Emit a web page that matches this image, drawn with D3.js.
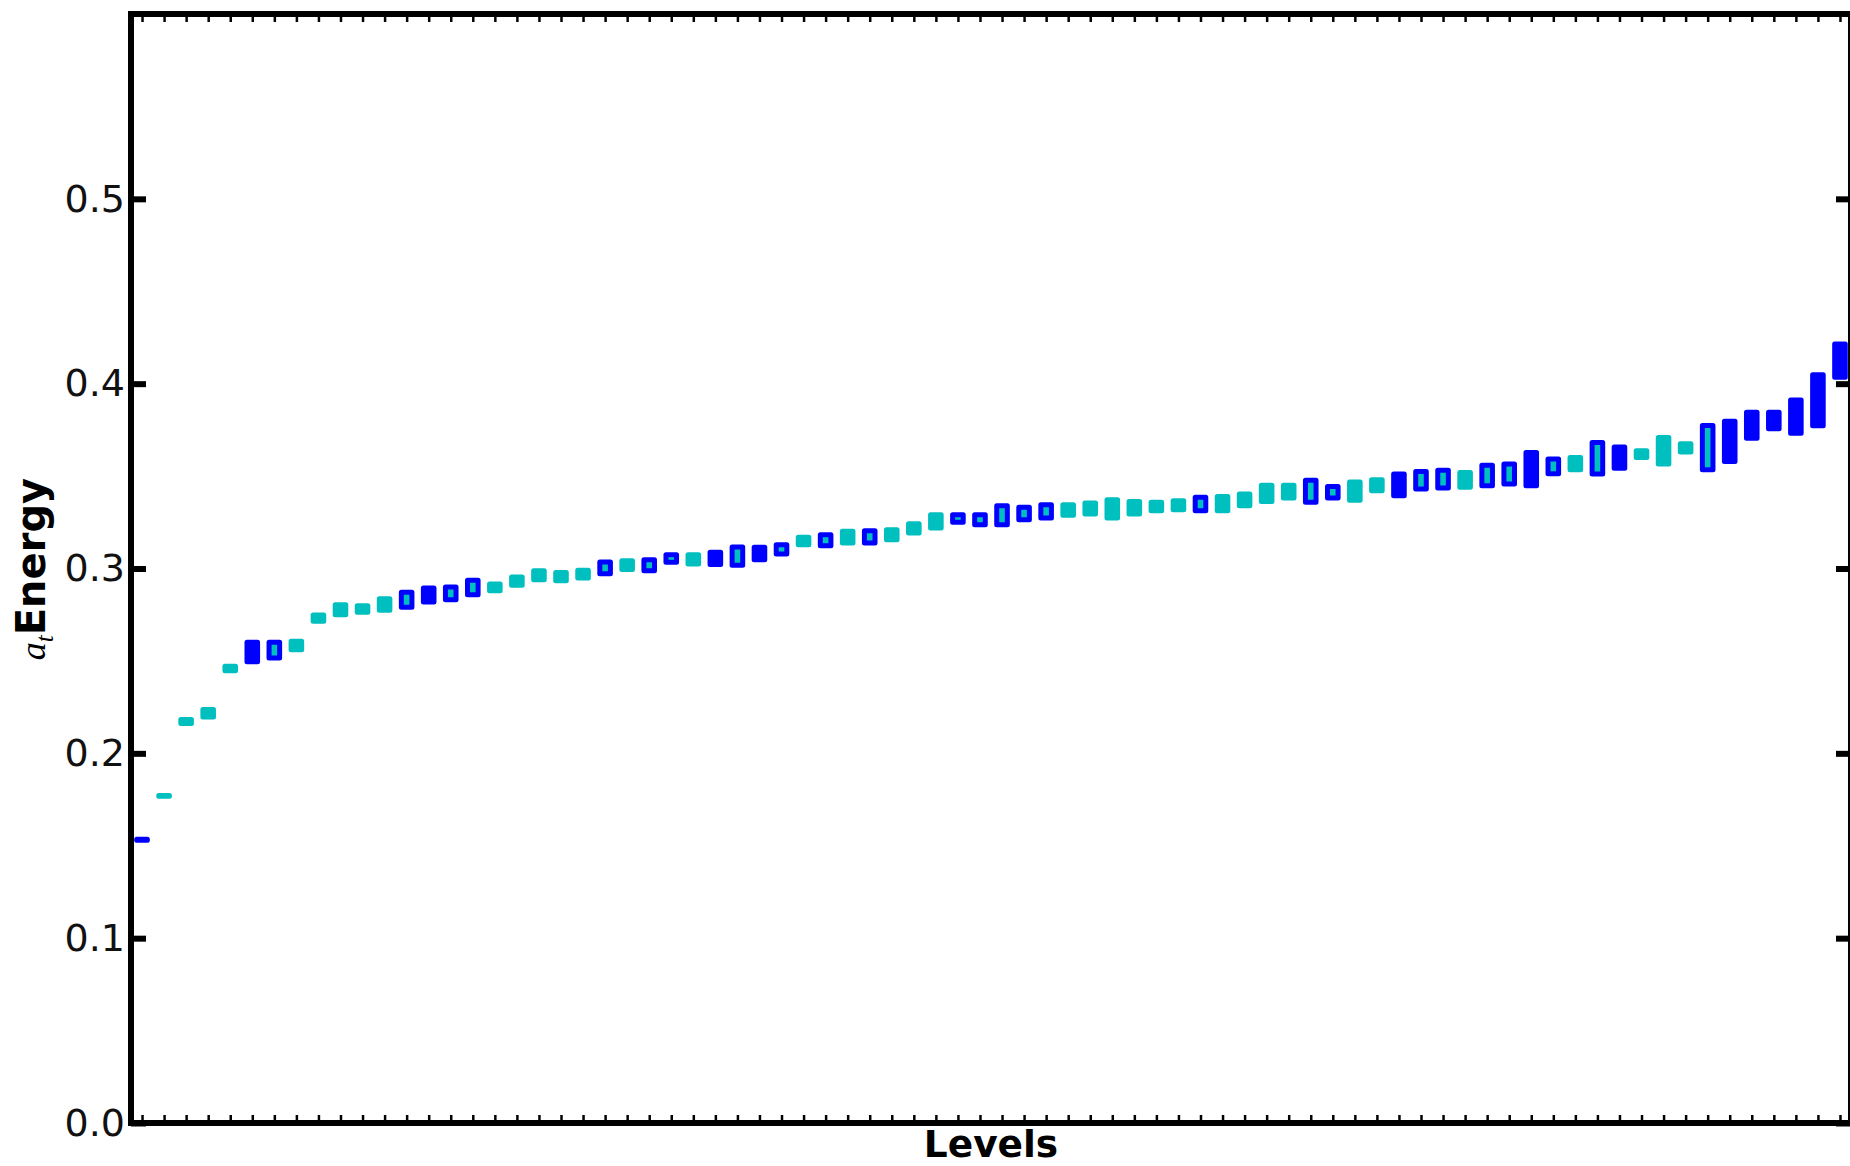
<!DOCTYPE html>
<html>
<head>
<meta charset="utf-8">
<script src="https://cdn.jsdelivr.net/npm/d3@7"></script>
<style>
  html, body { margin: 0; padding: 0; background: #fff; }
  svg { display: block; }
</style>
</head>
<body>
<svg id="chart" width="1850" height="1166"></svg>
<script>
// Level index (1..78), energy interval [low, high] and marker kind per level.
// kind: "b" = filled blue, "c" = filled cyan, "o" = cyan with blue outline
const levels = d3.range(1, 79);

const levelLow = [
  0.1530, 0.1768, 0.2161, 0.2197, 0.2447, 0.2495, 0.2516, 0.2561, 0.2715, 0.2750,
  0.2763, 0.2774, 0.2790, 0.2819, 0.2831, 0.2858, 0.2880, 0.2909, 0.2939, 0.2934,
  0.2949, 0.2972, 0.2994, 0.2988, 0.3034, 0.3024, 0.3021, 0.3017, 0.3048, 0.3078,
  0.3129, 0.3123, 0.3138, 0.3138, 0.3156, 0.3192, 0.3219, 0.3250, 0.3237, 0.3237,
  0.3264, 0.3273, 0.3288, 0.3295, 0.3273, 0.3295, 0.3312, 0.3318, 0.3312, 0.3312,
  0.3339, 0.3363, 0.3381, 0.3359, 0.3381, 0.3369, 0.3421, 0.3394, 0.3430, 0.3435,
  0.3439, 0.3448, 0.3457, 0.3448, 0.3512, 0.3534, 0.3511, 0.3543, 0.3601, 0.3566,
  0.3630, 0.3534, 0.3579, 0.3705, 0.3756, 0.3732, 0.3772, 0.4035
];

const levelHigh = [
  0.1535, 0.1772, 0.2183, 0.2237, 0.2471, 0.2601, 0.2601, 0.2606, 0.2749, 0.2804,
  0.2799, 0.2837, 0.2871, 0.2895, 0.2900, 0.2936, 0.2916, 0.2954, 0.2988, 0.2979,
  0.2990, 0.3035, 0.3042, 0.3048, 0.3075, 0.3075, 0.3088, 0.3116, 0.3115, 0.3129,
  0.3169, 0.3183, 0.3201, 0.3204, 0.3210, 0.3242, 0.3291, 0.3291, 0.3291, 0.3339,
  0.3332, 0.3345, 0.3345, 0.3354, 0.3372, 0.3363, 0.3359, 0.3366, 0.3385, 0.3390,
  0.3403, 0.3450, 0.3450, 0.3477, 0.3444, 0.3468, 0.3480, 0.3511, 0.3525, 0.3531,
  0.3520, 0.3559, 0.3565, 0.3628, 0.3592, 0.3601, 0.3682, 0.3657, 0.3637, 0.3709,
  0.3675, 0.3774, 0.3796, 0.3846, 0.3846, 0.3912, 0.4048, 0.4215
];

const levelKind = [
  "b","c","c","c","c","b","o","c","c","c",
  "c","c","o","b","o","o","c","c","c","c",
  "c","o","c","o","o","c","b","o","b","o",
  "c","o","c","o","c","c","c","o","o","o",
  "o","o","c","c","c","c","c","c","o","c",
  "c","c","c","o","o","c","c","b","o","o",
  "c","o","o","b","o","c","o","b","c","c",
  "c","o","b","b","b","b","b","b"
];

const yTickValues = [0.0, 0.1, 0.2, 0.3, 0.4, 0.5];

// Styling
const BLUE = "#0000ff";
const CYAN = "#00bfbf";
const fillOf = { b: BLUE, c: CYAN, o: CYAN };
const edgeOf = { b: BLUE, c: CYAN, o: BLUE };
const boxWidth = 0.48;   // in level units

const plotLeft = 131, plotRight = 1851, plotTop = 14, plotBottom = 1123;

const svg = d3.select("#chart");

const x = d3.scaleLinear().domain([0.5, 78.5]).range([plotLeft, plotRight]);
const y = d3.scaleLinear().domain([0, 0.6]).range([plotBottom, plotTop]);

const rows = levels.map((lv, i) => ({
  level: lv, low: levelLow[i], high: levelHigh[i], kind: levelKind[i]
}));

// Level boxes
const bw = x(boxWidth) - x(0);
svg.append("g")
  .selectAll("rect")
  .data(rows)
  .join("rect")
  .attr("x", d => x(d.level) - bw / 2)
  .attr("width", bw)
  .attr("y", d => y(d.high))
  .attr("height", d => Math.max(0.01, y(d.low) - y(d.high)))
  .attr("fill", d => fillOf[d.kind])
  .attr("stroke", d => edgeOf[d.kind])
  .attr("stroke-width", 5)
  .attr("stroke-linejoin", "round");

const fontSans = "'DejaVu Sans', sans-serif";

// Y axis, left (labelled) and right (ticks only)
const yLeft = svg.append("g")
  .attr("transform", `translate(${plotLeft},0)`)
  .call(d3.axisLeft(y).tickValues(yTickValues).tickSize(-15).tickPadding(6)
    .tickFormat(d3.format(".1f")));
const yRight = svg.append("g")
  .attr("transform", `translate(${plotRight},0)`)
  .call(d3.axisRight(y).tickValues(yTickValues).tickSize(-15).tickFormat(""));

// X axis minor ticks at each level, top and bottom
const xBottom = svg.append("g")
  .attr("transform", `translate(0,${plotBottom})`)
  .call(d3.axisBottom(x).tickValues(levels).tickSize(-8).tickFormat(""));
const xTop = svg.append("g")
  .attr("transform", `translate(0,${plotTop})`)
  .call(d3.axisTop(x).tickValues(levels).tickSize(-8).tickFormat(""));

[yLeft, yRight, xBottom, xTop].forEach(g => g.select(".domain").remove());
[yLeft, yRight].forEach(g => g.selectAll(".tick line")
  .attr("stroke", "#000").attr("stroke-width", 6));
[xBottom, xTop].forEach(g => g.selectAll(".tick line")
  .attr("stroke", "#000").attr("stroke-width", 2.5));

yLeft.selectAll(".tick text")
  .attr("font-family", fontSans)
  .attr("font-size", 38)
  .attr("fill", "#111");

// Frame
svg.append("rect")
  .attr("x", plotLeft).attr("y", plotTop)
  .attr("width", plotRight - plotLeft).attr("height", plotBottom - plotTop)
  .attr("fill", "none")
  .attr("stroke", "#000")
  .attr("stroke-width", 6);

// Axis titles
svg.append("text")
  .attr("x", (plotLeft + plotRight) / 2)
  .attr("y", 1157)
  .attr("text-anchor", "middle")
  .attr("font-family", fontSans)
  .attr("font-weight", "bold")
  .attr("font-size", 37.5)
  .attr("fill", "#000")
  .text("Levels");

const yl = svg.append("text")
  .attr("transform", "translate(45,569) rotate(-90)")
  .attr("text-anchor", "middle")
  .attr("fill", "#000");
yl.append("tspan")
  .attr("font-family", "'Liberation Serif', serif")
  .attr("font-style", "italic")
  .attr("font-size", 36)
  .text("a");
yl.append("tspan")
  .attr("font-family", "'Liberation Serif', serif")
  .attr("font-style", "italic")
  .attr("font-size", 25)
  .attr("dy", 8)
  .text("t");
yl.append("tspan")
  .attr("font-family", fontSans)
  .attr("font-weight", "bold")
  .attr("font-size", 40)
  .attr("dy", -8)
  .text("Energy");
</script>
</body>
</html>
